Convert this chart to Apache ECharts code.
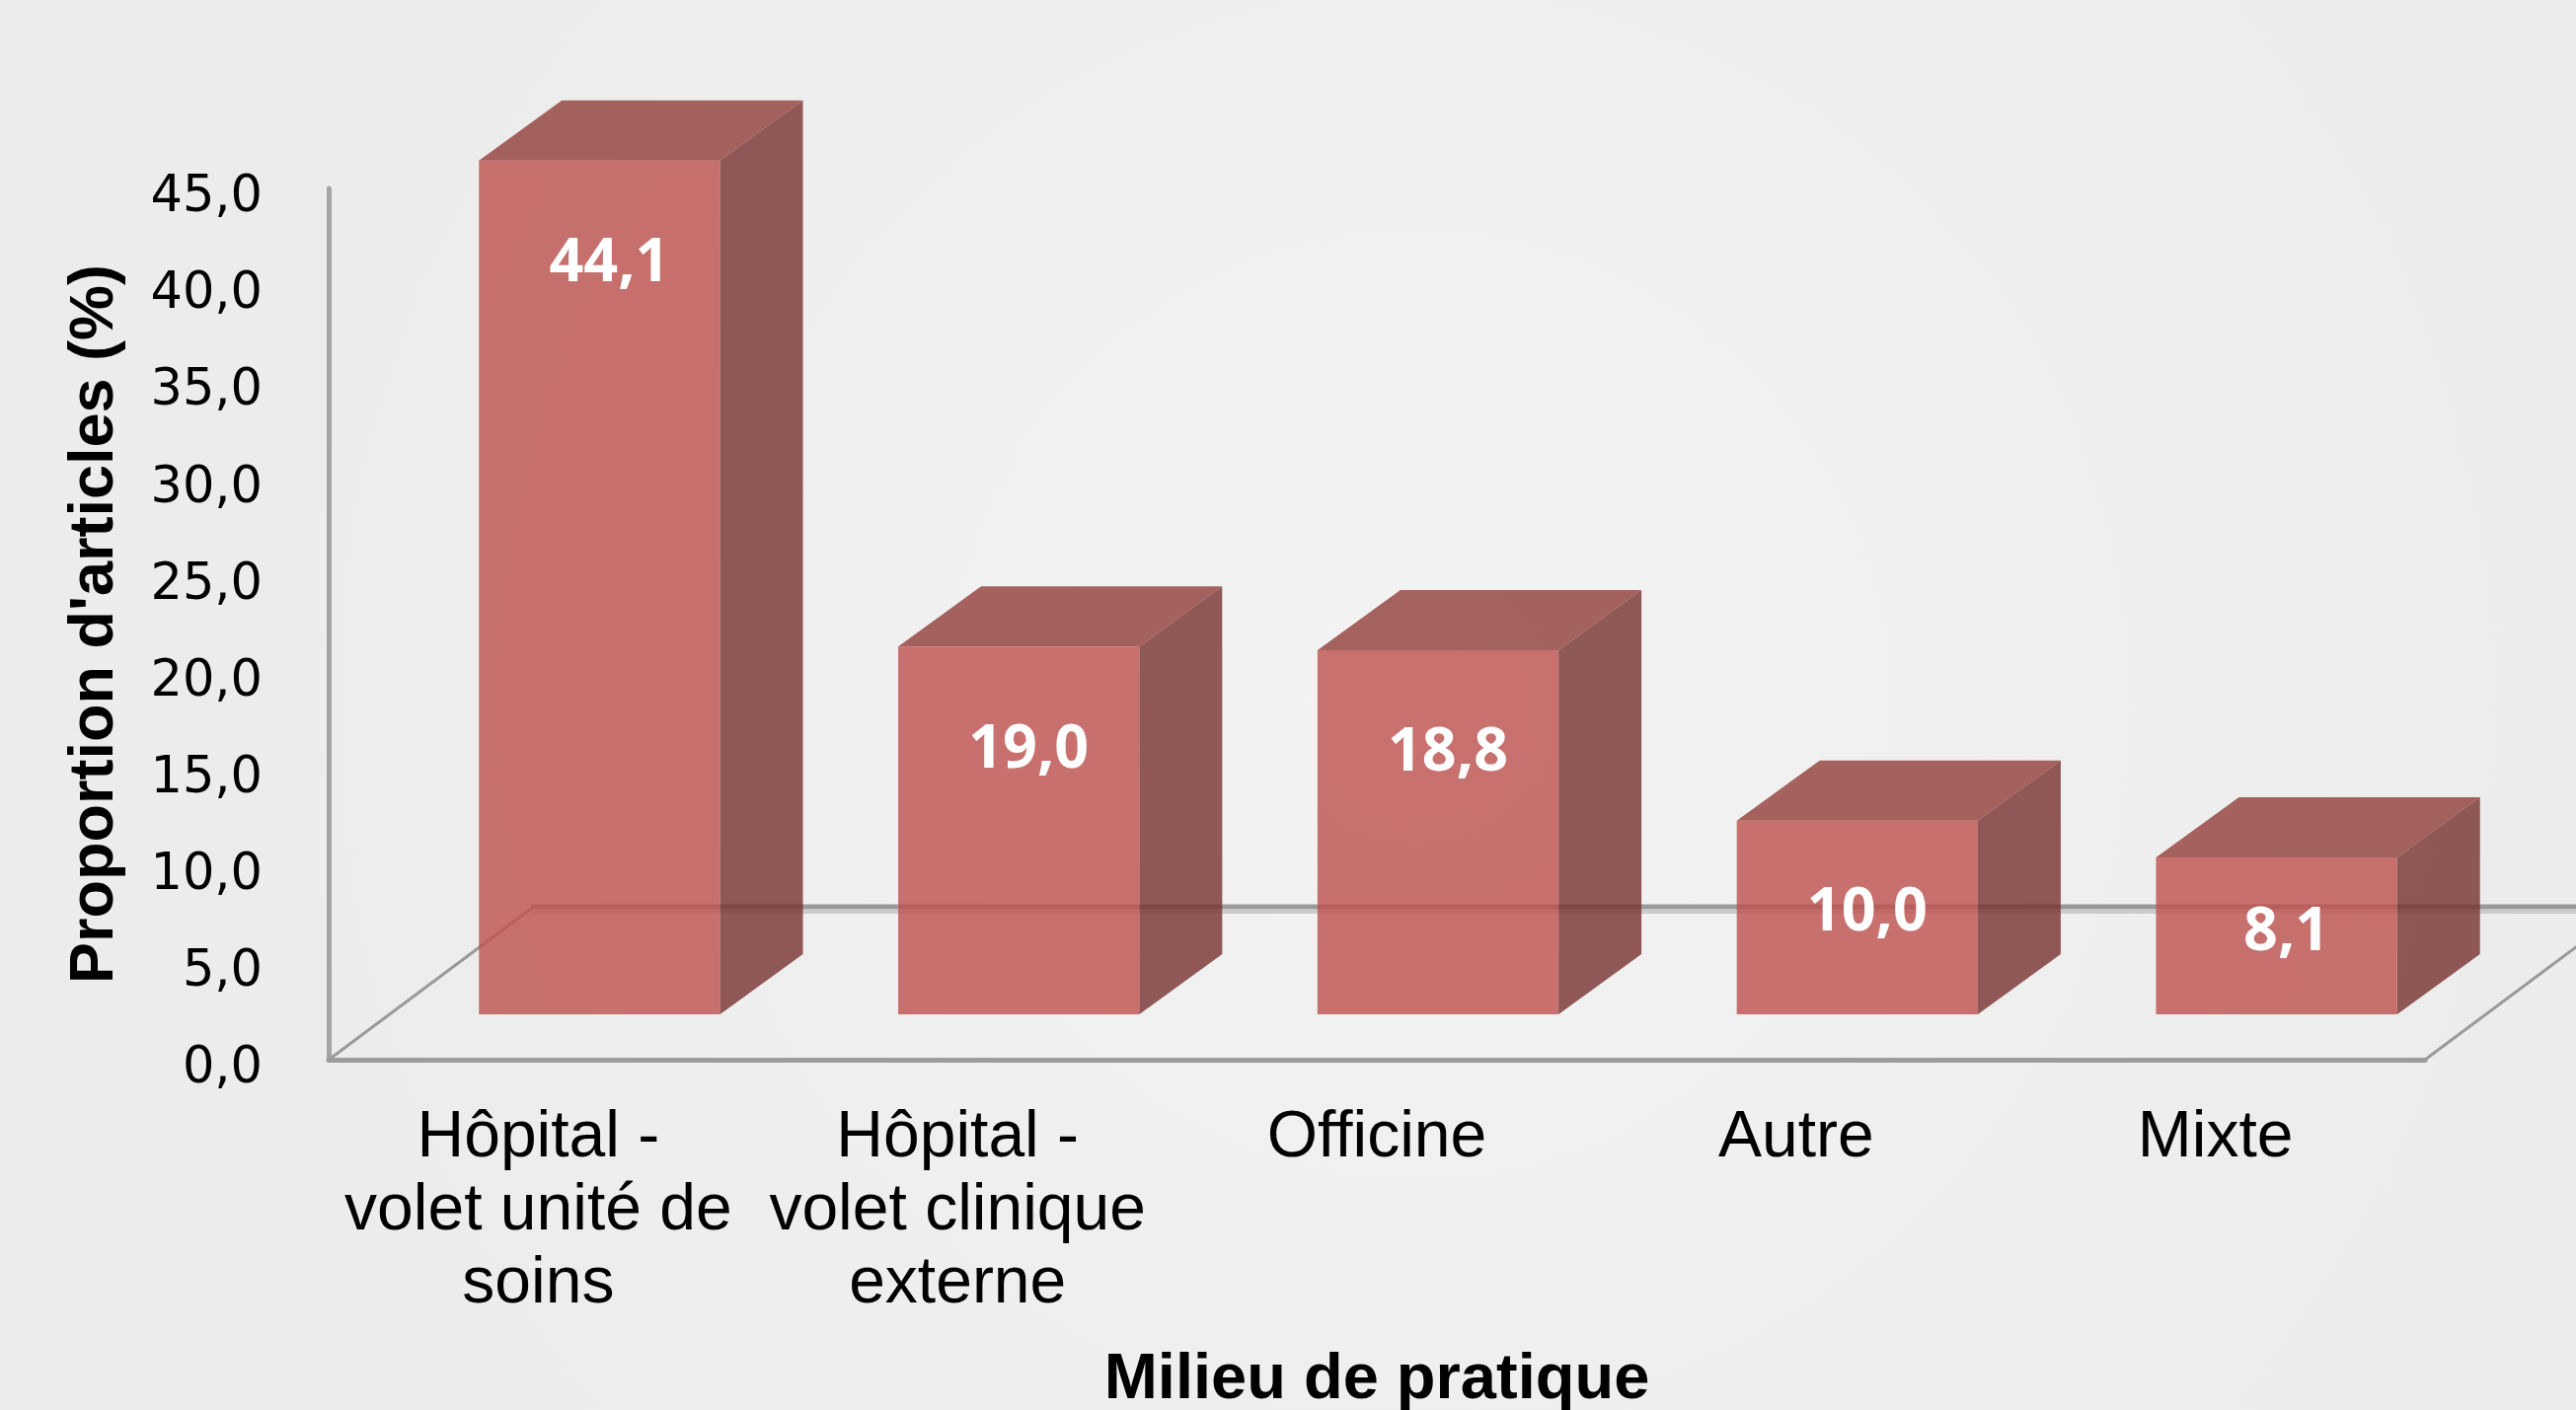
<!DOCTYPE html>
<html>
<head>
<meta charset="utf-8">
<script src="https://cdn.jsdelivr.net/npm/echarts@6/dist/echarts.min.js"></script>
<style>
html, body { margin: 0; padding: 0; background: #eff0ef; }
#myChart { width: 2610px; height: 1429px; }
</style>
</head>
<body>
<div id="myChart"></div>
<script>
var categories = ['Hôpital -\nvolet unité de\nsoins', 'Hôpital -\nvolet clinique\nexterne', 'Officine', 'Autre', 'Mixte'];
var values = [44.1, 19.0, 18.8, 10.0, 8.1];
var yMin = 0, yMax = 45, yStep = 5;

// pseudo 3D: floor depth, where the bar front sits in it, and the bar depth
var FLOOR = [205, -153];
var FRONT = [62, -46];
var DEPTH = [84, -61];

function fmt(v) {
    return v.toFixed(1).replace('.', ',');
}

function renderFloor(params, api) {
    var cs = params.coordSys;
    var x0 = cs.x, x1 = cs.x + cs.width, y = cs.y + cs.height;
    var dark = { stroke: '#999999', lineWidth: 5 };
    var light = { stroke: '#cbcbcb', lineWidth: 4 };
    return {
        type: 'group',
        children: [
            { type: 'line', shape: { x1: x0 + FLOOR[0], y1: y + FLOOR[1] - 2, x2: x1 + FLOOR[0] + 60, y2: y + FLOOR[1] - 2 }, style: dark },
            { type: 'line', shape: { x1: x0 + FLOOR[0], y1: y + FLOOR[1] + 3, x2: x1 + FLOOR[0] + 60, y2: y + FLOOR[1] + 3 }, style: light },
            { type: 'line', shape: { x1: x0, y1: y, x2: x0 + FLOOR[0], y2: y + FLOOR[1] }, style: { stroke: '#9a9a9a', lineWidth: 3 } },
            { type: 'line', shape: { x1: x1, y1: y, x2: x1 + FLOOR[0], y2: y + FLOOR[1] }, style: { stroke: '#9a9a9a', lineWidth: 3 } }
        ]
    };
}

function renderBar(params, api) {
    var i = api.value(0);
    var v = api.value(1);
    var base = api.coord([i, 0]);
    var top = api.coord([i, v]);
    var w = api.size([1, 0])[0] * 0.575;
    var x0 = base[0] + FRONT[0] - w / 2;
    var x1 = x0 + w;
    var yb = base[1] + FRONT[1];
    var yt = top[1] + FRONT[1];
    var dx = DEPTH[0], dy = DEPTH[1];
    return {
        type: 'group',
        children: [
            { type: 'polygon', shape: { points: [[x1, yt], [x1 + dx, yt + dy], [x1 + dx, yb + dy], [x1, yb]] }, style: { fill: 'rgba(119,50,48,0.8)' } },
            { type: 'polygon', shape: { points: [[x0, yt], [x0 + dx, yt + dy], [x1 + dx, yt + dy], [x1, yt]] }, style: { fill: 'rgba(145,61,58,0.8)' } },
            { type: 'rect', shape: { x: x0, y: yt, width: w, height: yb - yt }, style: { fill: 'rgba(189,80,78,0.8)' } },
            {
                type: 'text',
                x: (x0 + x1) / 2 + 10,
                y: yt + Math.min(105, (yb - yt) * 0.48),
                style: {
                    text: fmt(v),
                    fill: '#ffffff',
                    font: 'bold 61px "Open Sans"',
                    align: 'center',
                    verticalAlign: 'middle'
                }
            }
        ]
    };
}

var myChart = echarts.init(document.getElementById('myChart'));

var option = {
    backgroundColor: {
        type: 'radial', x: 0.55, y: 0.5, r: 0.8,
        colorStops: [{ offset: 0, color: '#f2f3f2' }, { offset: 1, color: '#ebeceb' }]
    },
    animation: false,
    grid: { left: 333, right: 153, top: 191, bottom: 355, containLabel: false, outerBoundsMode: 'none' },
    xAxis: {
        type: 'category',
        data: categories,
        name: 'Milieu de pratique',
        nameLocation: 'middle',
        nameGap: 325,
        nameTextStyle: { fontFamily: 'Liberation Sans', fontWeight: 'bold', fontSize: 65, color: '#000', verticalAlign: 'middle' },
        axisLine: { lineStyle: { color: '#9c9c9c', width: 5 } },
        axisTick: { show: false },
        axisLabel: { interval: 0, margin: 43, fontFamily: 'Liberation Sans', fontSize: 66, lineHeight: 74, color: '#000' },
        splitLine: { show: false }
    },
    yAxis: {
        type: 'value',
        min: yMin,
        max: yMax,
        interval: yStep,
        name: "Proportion d'articles (%)",
        nameLocation: 'middle',
        nameGap: 236,
        nameRotate: 90,
        nameTextStyle: { fontFamily: 'Liberation Sans', fontWeight: 'bold', fontSize: 63, color: '#000', verticalAlign: 'middle' },
        axisLine: { show: true, lineStyle: { color: '#a4a4a4', width: 5 } },
        axisTick: { show: false },
        axisLabel: {
            margin: 67,
            formatter: function (v) { return '{t|' + fmt(v) + '}'; },
            rich: { t: { fontFamily: 'DejaVu Sans', fontSize: 51, color: '#000', padding: [20, 0, 0, 0] } }
        },
        splitLine: { show: false }
    },
    series: [{
        type: 'custom',
        z: 1,
        clip: false,
        silent: true,
        renderItem: renderFloor,
        data: [[0, 0]]
    }, {
        type: 'custom',
        z: 2,
        clip: false,
        renderItem: renderBar,
        encode: { x: 0, y: 1 },
        data: values.map(function (v, i) { return [i, v]; })
    }]
};
myChart.setOption(option);
</script>
</body>
</html>
